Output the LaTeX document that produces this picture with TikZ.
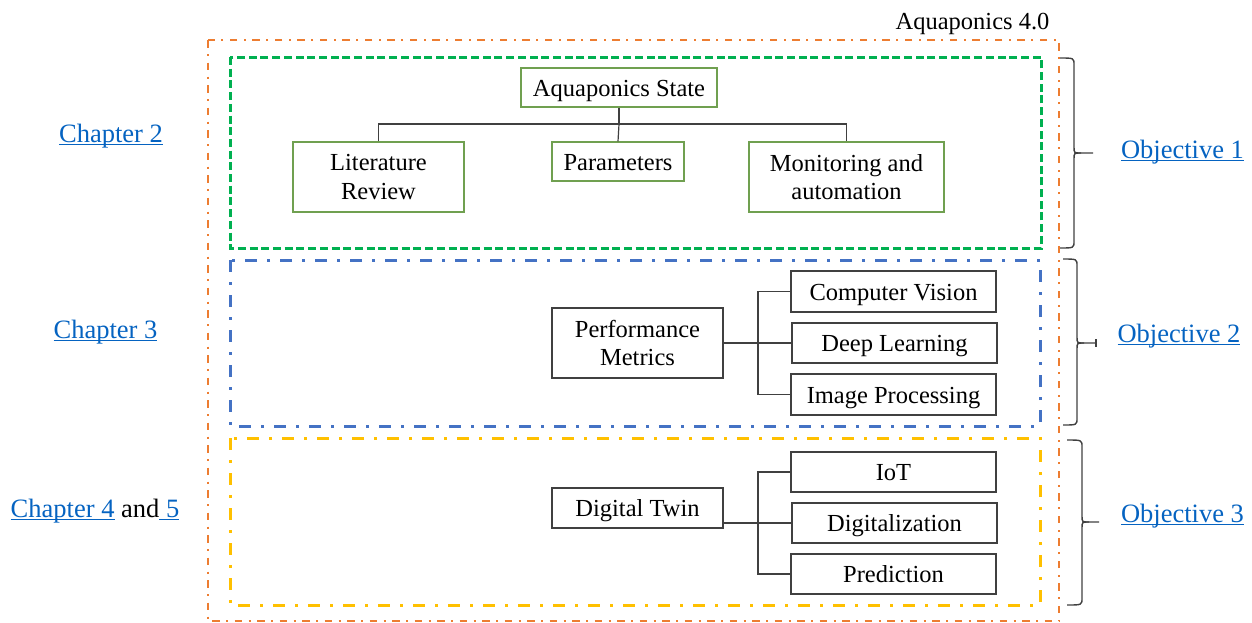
\documentclass[tikz,border=0pt]{standalone}
\usepackage{fontspec}
\setmainfont{Liberation Serif}
\newfontfamily\bodyserif{Liberation Serif}
\usetikzlibrary{calc}

\definecolor{frameorange}{RGB}{237,125,49}
\definecolor{framegreen}{RGB}{0,176,80}
\definecolor{frameblue}{RGB}{68,114,196}
\definecolor{frameyellow}{RGB}{255,192,0}
\definecolor{boxgreen}{RGB}{112,160,80}
\definecolor{boxgray}{RGB}{64,64,64}
\definecolor{linkblue}{RGB}{5,99,193}

% hyperlink-like text: blue with a fixed-depth underline
\newcommand\linktext[1]{\textcolor{linkblue}{\setbox0\hbox{#1}\rlap{\rule[-3.2pt]{\wd0}{1.6pt}}\box0}}

% right-hand curly bracket: end x, back x, tip x, top y, middle y, bottom y
\newcommand\curlybrace[6]{%
  \draw[bracket] (#1,#4) .. controls (#2,#4) .. (#2,#4+7) -- (#2,#5-6)
     .. controls (#2,#5) .. (#2+7,#5) -- (#3,#5);
  \draw[bracket] (#2+7,#5) .. controls (#2,#5) .. (#2,#5+6) -- (#2,#6-7)
     .. controls (#2,#6) .. (#1,#6);}

\tikzset{
  lbl/.style={font=\bodyserif\fontsize{24.5}{28.5}\selectfont, align=center},
  oneline/.style={text height=17pt, text depth=0pt},
  topbox/.style={lbl, draw=boxgreen, line width=1.3pt, inner sep=0pt},
  subbox/.style={lbl, draw=boxgray, line width=1.3pt, inner sep=0pt},
  link/.style={draw=boxgray, line width=1.2pt},
  bracket/.style={draw=boxgray, line width=1.4pt},
  sidelbl/.style={font=\bodyserif\fontsize{26.5}{30}\selectfont, anchor=base, inner sep=0pt},
  outerframe/.style={draw=frameorange, line width=2pt,
    dash pattern=on 7.5pt off 6.5pt on 2pt off 6.5pt},
  stateframe/.style={draw=framegreen, line width=3pt,
    dash pattern=on 8pt off 3.7pt},
  visionframe/.style={draw=frameblue, line width=3pt,
    dash pattern=on 12pt off 10pt on 3pt off 10pt},
  twinframe/.style={draw=frameyellow, line width=3pt,
    dash pattern=on 12pt off 10pt on 3pt off 10pt},
}

\begin{document}
\begin{tikzpicture}[x=1pt, y=-1pt]
  \useasboundingbox (0,0) rectangle (1252,622);

  % frames
  \draw[outerframe] (208,40) rectangle (1059,621);
  \draw[stateframe] (230,57) rectangle (1041,248);
  \draw[visionframe] (230,260) rectangle (1040,426);
  \draw[twinframe] (230,438) rectangle (1040,605);

  \node[lbl, anchor=base, inner sep=0pt] (title) at (972.5,29) {Aquaponics 4.0};

  % aquaponics state tree
  \node[topbox, oneline, minimum width=196pt, minimum height=39pt] (st) at (619,87.5) {Aquaponics State};
  \node[topbox, minimum width=171pt, minimum height=70pt] (lit) at (378.5,177) {Literature\\Review};
  \node[topbox, oneline, minimum width=132pt, minimum height=39pt] (par) at (618,161.5) {Parameters};
  \node[topbox, minimum width=195pt, minimum height=70pt] (mon) at (846.5,177) {Monitoring and\\automation};
  \coordinate (sj) at (619,124);
  \draw[link] (st.south) -- (sj);
  \draw[link] (lit.north) |- (sj) -| (mon.north);
  \draw[link] (sj) -- (par.north);

  % performance metrics tree
  \node[subbox, minimum width=171pt, minimum height=70pt] (pm) at (637.5,343) {Performance\\Metrics};
  \node[subbox, oneline, minimum width=205pt, minimum height=41pt] (cv) at (893.5,291.5) {Computer Vision};
  \node[subbox, oneline, minimum width=205pt, minimum height=40pt] (dl) at (894.5,343) {Deep Learning};
  \node[subbox, oneline, minimum width=205pt, minimum height=41pt] (ip) at (893.5,394.5) {Image Processing};
  \coordinate (pj) at (758,343);
  \draw[link] (pm.east) -- (dl.west);
  \draw[link] (cv.west) -| (pj) |- (ip.west);

  % digital twin tree
  \node[subbox, oneline, minimum width=171pt, minimum height=40pt] (dt) at (637.5,508) {Digital Twin};
  \node[subbox, oneline, minimum width=205pt, minimum height=40pt] (iot) at (893.5,472) {IoT};
  \node[subbox, oneline, minimum width=205pt, minimum height=40pt] (dig) at (894.5,523) {Digitalization};
  \node[subbox, oneline, minimum width=205pt, minimum height=40pt] (pre) at (893.5,574) {Prediction};
  \coordinate (dj) at (758,523);
  \draw[link] (dt.east |- dig.west) -- (dig.west);
  \draw[link] (iot.west) -| (dj) |- (pre.west);

  % chapter references
  \node[sidelbl] (ch2) at (111,142) {\linktext{Chapter 2}};
  \node[sidelbl] (ch3) at (105.5,338) {\linktext{Chapter 3}};
  \node[sidelbl] (ch45) at (95,517) {\linktext{Chapter 4} and\linktext{\ 5}};

  % objective brackets
  \curlybrace{1060}{1074}{1093}{58}{153}{248}
  \curlybrace{1063}{1077}{1096}{259}{343}{425}
  \draw[bracket] (1096,339) -- (1096,347);
  \curlybrace{1067}{1082}{1099}{440}{522}{605}

  \node[sidelbl] (ob1) at (1182.5,158) {\linktext{Objective 1}};
  \node[sidelbl] (ob2) at (1179,342) {\linktext{Objective 2}};
  \node[sidelbl] (ob3) at (1182.5,522) {\linktext{Objective 3}};
\end{tikzpicture}
\end{document}
